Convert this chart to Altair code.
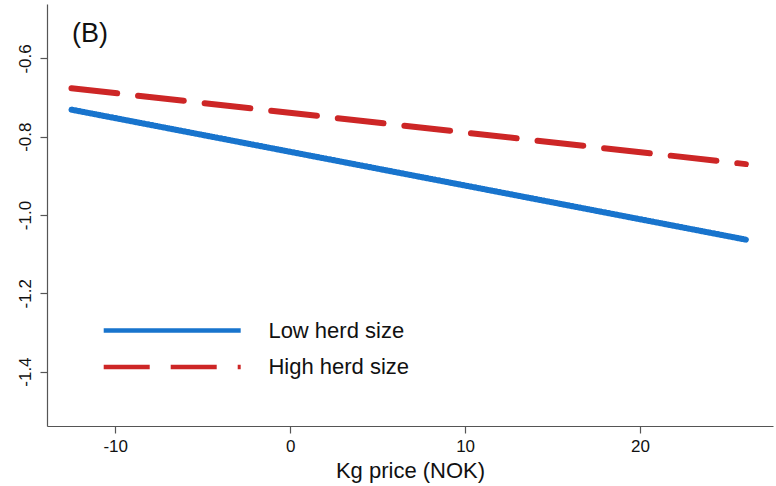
import altair as alt
import pandas as pd

# Data
groups = ["Low herd size", "Low herd size", "High herd size", "High herd size"]
kg_price = [-12.5, 26.05, -12.5, 26.05]
effect = [-0.731, -1.063, -0.676, -0.870]

series_order = ["Low herd size", "High herd size"]
series_colors = ["#1874CD", "#CD2626"]
x_ticks = [-10, 0, 10, 20]
y_ticks = [-1.4, -1.2, -1.0, -0.8, -0.6]
panel_label = ["(B)"]

df = pd.DataFrame({"group": groups, "price": kg_price, "effect": effect})
df_label = pd.DataFrame({"label": panel_label})

FONT = "Liberation Sans"

lines = (
    alt.Chart(df)
    .mark_line(strokeWidth=6, strokeCap="round")
    .encode(
        x=alt.X("price:Q",
                scale=alt.Scale(domain=[-13.9, 27.6], nice=False, zero=False),
                axis=alt.Axis(values=x_ticks, title="Kg price (NOK)", grid=False,
                              labelExpr="replace(format(datum.value, 'd'), '\u2212', '-')")),
        y=alt.Y("effect:Q",
                scale=alt.Scale(domain=[-1.539, -0.461], nice=False, zero=False),
                axis=alt.Axis(values=y_ticks, title=None, grid=False,
                              labelExpr="replace(format(datum.value, '.1f'), '\u2212', '-')",
                              labelAngle=-90, labelAlign="center", labelBaseline="bottom",
                              labelPadding=6)),
        color=alt.Color("group:N",
                        scale=alt.Scale(domain=series_order, range=series_colors),
                        legend=alt.Legend(title=None, orient="none", legendX=112.7, legendY=314,
                                          symbolType="M-7,0H7", symbolSize=383,
                                          symbolStrokeWidth=4.5, labelFontSize=22,
                                          labelFont=FONT, labelColor="#111",
                                          labelOffset=83.7, rowPadding=12.4, labelLimit=0,
                                          padding=0)),
        strokeDash=alt.StrokeDash("group:N",
                                  scale=alt.Scale(domain=series_order, range=[[1, 0], [46, 21]]),
                                  legend=None),
        detail="group:N",
    )
)

label = (
    alt.Chart(df_label)
    .mark_text(font=FONT, fontSize=27, color="#111", align="left", baseline="alphabetic")
    .encode(text="label:N", x=alt.value(25), y=alt.value(37.7))
)

chart = (
    alt.layer(lines, label)
    .properties(width=726, height=422,
                padding={"left": 47, "top": 4, "right": 3, "bottom": 60},
                autosize=alt.AutoSizeParams(type="none"))
    .configure_view(stroke=None)
    .configure_axis(domainColor="#555", domainWidth=1.2, tickColor="#555", tickWidth=1.2,
                    tickSize=7, labelFont=FONT, labelFontSize=17, labelColor="#111",
                    titleFont=FONT, titleFontSize=22, titleFontWeight="normal",
                    titleColor="#111", labelPadding=5, titlePadding=6)
)

chart.save("out.html", embed_options={"renderer": "svg", "actions": False})
